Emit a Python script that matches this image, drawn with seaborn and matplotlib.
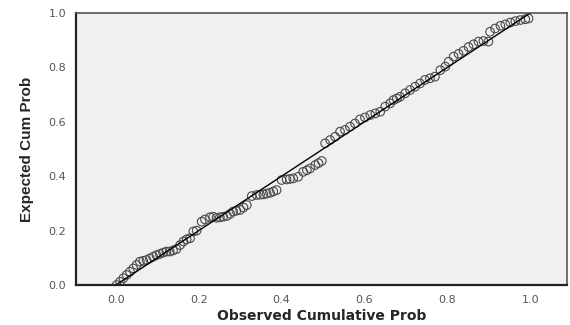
import matplotlib
matplotlib.use("Agg")
import matplotlib.pyplot as plt
import seaborn as sns
import pandas as pd

# -----------------------------------
# DATA
# -----------------------------------

observed = [
    0.002, 0.010, 0.018, 0.026, 0.034, 0.042, 0.050, 0.058, 0.066, 0.074,
    0.082, 0.090, 0.098, 0.106, 0.114, 0.122, 0.130, 0.138, 0.146, 0.155,
    0.163, 0.171, 0.179, 0.187, 0.195, 0.207, 0.215, 0.227, 0.235,
    0.243, 0.251, 0.259, 0.268, 0.276, 0.283, 0.291, 0.300, 0.308, 0.316,
    0.328, 0.340, 0.348, 0.356, 0.364, 0.372, 0.380, 0.388, 0.400, 0.412,
    0.420, 0.428, 0.440, 0.452, 0.461, 0.469, 0.481, 0.489, 0.497,
    0.505, 0.517, 0.529, 0.541, 0.553, 0.565, 0.577, 0.589, 0.601, 0.614,
    0.626, 0.638, 0.650, 0.662, 0.670, 0.678,
    0.686, 0.698, 0.710, 0.722, 0.734, 0.746, 0.758, 0.770, 0.783, 0.795,
    0.803, 0.815, 0.827, 0.839, 0.851, 0.863, 0.875, 0.887, 0.899,
    0.903, 0.915, 0.928, 0.940, 0.952, 0.964, 0.976, 0.988, 0.996,
]

expected = [
    0.000, 0.012, 0.025, 0.037, 0.049, 0.061, 0.074, 0.086, 0.089, 0.092,
    0.098, 0.104, 0.110, 0.114, 0.119, 0.123, 0.123, 0.127, 0.132, 0.147,
    0.160, 0.168, 0.172, 0.197, 0.200, 0.233, 0.241, 0.249, 0.251,
    0.247, 0.249, 0.251, 0.254, 0.262, 0.270, 0.273, 0.276, 0.285, 0.294,
    0.327, 0.331, 0.332, 0.333, 0.336, 0.339, 0.344, 0.349, 0.386, 0.388,
    0.390, 0.392, 0.398, 0.416, 0.422, 0.429, 0.441, 0.448, 0.456,
    0.521, 0.533, 0.545, 0.564, 0.570, 0.582, 0.594, 0.609, 0.616, 0.625,
    0.631, 0.637, 0.656, 0.668, 0.680, 0.686,
    0.692, 0.705, 0.717, 0.729, 0.741, 0.754, 0.760, 0.766, 0.790, 0.803,
    0.821, 0.840, 0.850, 0.861, 0.875, 0.885, 0.895, 0.897, 0.895,
    0.931, 0.943, 0.953, 0.958, 0.965, 0.970, 0.974, 0.977, 0.980,
]

# reference diagonal
line_x = [0.0, 1.0]
line_y = [0.0, 1.0]

tick_values = [0.0, 0.2, 0.4, 0.6, 0.8, 1.0]
tick_labels = ["0.0", "0.2", "0.4", "0.6", "0.8", "1.0"]

points = pd.DataFrame({"observed": observed, "expected": expected})
diag = pd.DataFrame({"x": line_x, "y": line_y})

# -----------------------------------
# PLOT
# -----------------------------------

sns.set_style("white")
plt.rcParams["font.family"] = ["DejaVu Sans"]

fig, ax = plt.subplots(figsize=(5.7, 3.25), dpi=100)
fig.subplots_adjust(left=0.133, right=0.995, top=0.96, bottom=0.123)

ax.set_facecolor("#F0F0F0")

sns.lineplot(data=diag, x="x", y="y", color="black", linewidth=1.0, ax=ax)

sns.scatterplot(
    data=points, x="observed", y="expected",
    marker="o", s=38, facecolors="none", edgecolor="#4a4a4a",
    linewidth=0.8, ax=ax
)

ax.set_xlim(-0.0966, 1.089)
ax.set_ylim(0.0, 1.0)

ax.set_xticks(tick_values)
ax.set_xticklabels(tick_labels)
ax.set_yticks(tick_values)
ax.set_yticklabels(tick_labels)

ax.tick_params(axis="both", direction="out", length=5, width=1.5,
               color="black", labelcolor="#555555", labelsize=8, pad=2)

for side in ["top", "right"]:
    ax.spines[side].set_color("#555555")
    ax.spines[side].set_linewidth(1.2)
for side in ["left", "bottom"]:
    ax.spines[side].set_color("#222222")
    ax.spines[side].set_linewidth(1.6)

ax.set_xlabel("Observed Cumulative Prob", fontsize=10, fontweight="bold",
              labelpad=3)
ax.set_ylabel("Expected Cum Prob", fontsize=11, fontweight="bold",
              family=["Liberation Sans Narrow", "Liberation Sans"],
              labelpad=10)

plt.savefig("out.png", dpi=100)
